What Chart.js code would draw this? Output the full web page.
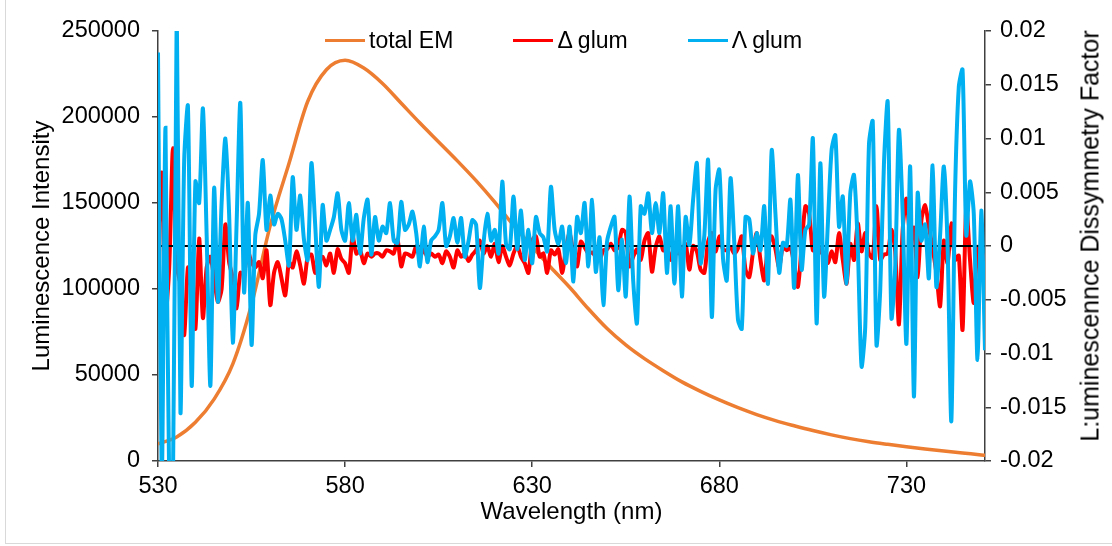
<!DOCTYPE html>
<html><head><meta charset="utf-8">
<script src="https://cdn.jsdelivr.net/npm/chart.js@4.4.1/dist/chart.umd.min.js"></script>
<style>
html,body{margin:0;padding:0;background:#fff;overflow:hidden}
#wrap{position:relative;width:1112px;height:546px;font-family:"Liberation Sans",Arial,sans-serif;overflow:hidden}
#frame{position:absolute;left:5px;top:-10px;width:1200px;height:552px;border:1px solid #d9d9d9}
#c{position:absolute;left:0;top:0}
#legend{position:absolute;left:325px;top:28px;display:flex;align-items:center;font-size:23px;line-height:24px;color:#000;white-space:nowrap}
.item{display:flex;align-items:center;margin-right:60px}
.swatch{width:40px;height:3px;margin-right:4px}
#rtitle{position:absolute;left:1090px;top:236px;transform:translate(-50%,-50%) rotate(-90deg);font-size:25px;color:#000;white-space:nowrap}
</style></head>
<body>
<div id="wrap">
<div id="frame"></div>
<canvas id="c" width="1112" height="546"></canvas>
<div id="legend"></div>
<div id="rtitle"></div>
</div>
<script>
// ---- data ----
const xTickValues = [530, 580, 630, 680, 730];
const xTickLabels = ['530', '580', '630', '680', '730'];
const leftTickValues = [0, 50000, 100000, 150000, 200000, 250000];
const leftTickLabels = ['0', '50000', '100000', '150000', '200000', '250000'];
const rightTickValues = [-0.02, -0.015, -0.01, -0.005, 0, 0.005, 0.01, 0.015, 0.02];
const rightTickLabels = ['-0.02', '-0.015', '-0.01', '-0.005', '0', '0.005', '0.01', '0.015', '0.02'];

const emWavelengths = [530,535,540,545,550,555,560,565,570,575,580,585,590,595,600,605,610,615,620,625,630,635,640,645,650,655,660,665,670,675,680,685,690,695,700,705,710,715,720,725,730,735,740,745,750,751];
const emIntensity = [9900,14000,22500,36000,56500,91000,137000,173000,209000,227500,233000,228500,219500,208000,196500,185500,174500,163000,150500,137000,124500,112500,101000,88500,77000,67500,59500,52500,46000,40500,35500,31000,27000,23500,20500,17700,15200,13000,11200,9700,8300,7000,5800,4700,3500,3300];

const glumWavelengths = [
530,531,532,533,534,535,536,537,538,539,
540,541,542,543,544,545,546,547,548,549,
550,551,552,553,554,555,556,557,558,559,
560,561,562,563,564,565,566,567,568,569,
570,571,572,573,574,575,576,577,578,579,
580,581,582,583,584,585,586,587,588,589,
590,591,592,593,594,595,596,597,598,599,
600,601,602,603,604,605,606,607,608,609,
610,611,612,613,614,615,616,617,618,619,
620,621,622,623,624,625,626,627,628,629,
630,631,632,633,634,635,636,637,638,639,
640,641,642,643,644,645,646,647,648,649,
650,651,652,653,654,655,656,657,658,659,
660,661,662,663,664,665,666,667,668,669,
670,671,672,673,674,675,676,677,678,679,
680,681,682,683,684,685,686,687,688,689,
690,691,692,693,694,695,696,697,698,699,
700,701,702,703,704,705,706,707,708,709,
710,711,712,713,714,715,716,717,718,719,
720,721,722,723,724,725,726,727,728,729,
730,731,732,733,734,735,736,737,738,739,
740,741,742,743,744,745,746,747,748,749,
750,751];

const deltaGlum = [
0,0.0068,-0.0064,-0.002,0.0091,-0.0018,-0.0036,-0.0083,-0.002,-0.0042,
-0.0077,0.0007,-0.0067,-0.002,-0.001,-0.003,-0.0052,-0.004,0.002,-0.0015,
-0.003,-0.0058,-0.0025,-0.0025,-0.0005,-0.0015,-0.002,-0.0015,-0.003,-0.0004,
-0.0055,-0.0025,-0.0015,-0.003,-0.0046,-0.0015,-0.002,-0.0005,-0.0018,-0.0035,
-0.001,-0.0008,-0.0025,-0.0015,-0.001,-0.0018,-0.0007,-0.0025,-0.0003,-0.0012,
-0.0016,-0.0025,0.0009,-0.0007,-0.0004,-0.0016,-0.0007,-0.001,-0.0007,-0.0007,
-0.001,-0.0004,-0.0005,-0.0007,0.0006,-0.0019,-0.0007,-0.0008,-0.001,0,
-0.001,-0.0003,-0.001,-0.0007,-0.001,-0.0008,-0.0016,-0.0005,-0.001,-0.002,
-0.0004,-0.001,-0.0007,-0.0014,-0.0008,-0.0004,0.0005,-0.0007,0,-0.001,
0.0002,-0.0015,0,-0.001,-0.0018,-0.0007,0,-0.001,-0.0016,-0.0025,
0.0005,0.0009,-0.001,-0.0007,-0.0025,-0.0004,-0.0008,-0.0003,-0.0025,-0.0003,
0.0012,-0.0007,-0.0019,0.0004,-0.0001,-0.0007,-0.0006,-0.001,-0.0013,-0.0004,
-0.0003,0.0002,-0.0004,-0.0001,0.0015,0.0012,-0.0019,-0.001,-0.0003,-0.0013,
0.0005,0.0012,-0.0024,-0.0001,0.0009,-0.0004,-0.0001,-0.0013,-0.0001,-0.0007,
-0.0004,0.0002,-0.0022,0,-0.0005,-0.0022,-0.0025,0.0004,0.0012,-0.0005,
0.0009,-0.0003,-0.0004,-0.0001,-0.0007,-0.0002,0.0009,-0.0022,-0.0029,-0.0006,
0.0012,-0.0013,-0.0032,0,0.0009,-0.0003,-0.002,0,-0.0004,-0.0001,
-0.0017,-0.0038,0,0.0037,0.003,-0.0004,0.0002,-0.0004,-0.001,-0.0016,
-0.0005,-0.0015,0.0012,-0.0013,-0.0035,0.0002,-0.0013,0.0021,-0.0005,0.0012,
-0.0007,-0.0011,0.0037,-0.0013,-0.0008,-0.0007,0.0015,-0.0005,-0.0073,0.0015,
0.0044,0.001,0.0017,-0.0029,0.0024,0.0038,0.0018,-0.0002,-0.0025,-0.0056,
0.0005,-0.0016,0.0021,-0.0013,-0.0009,-0.0078,0.0037,-0.0013,-0.0053,-0.0001,
-0.0019,-0.0007];

const lambdaGlum = [
0.018,-0.022,0.011,-0.022,-0.022,0.022,-0.0155,0.008,0.013,-0.013,
0.006,0.004,0.0128,0.001,-0.013,0.0054,-0.0052,0.004,0.010,0.003,
-0.009,0.002,0.0133,-0.0043,0.004,-0.0092,0.001,0.003,0.008,0.0015,
0.0047,0.002,0.003,0.0025,0.0005,-0.0018,0.0064,0.0015,0.0047,0.0006,
-0.0013,0.0077,0.002,-0.0038,0.0038,0.0005,0.0015,0.0027,0.0049,0.0015,
0.0005,0.004,0.0005,0.0029,-0.0007,0.0026,0.0043,-0.0008,0.0027,0.0005,
0.0018,0.0012,0.004,0.0005,0.0003,0.0041,0.0015,0.002,0.0032,0.0012,
-0.0019,0.0018,-0.0015,0.0005,0.0009,0.0015,0.004,0,0.0009,0.0026,
0.0003,0.0026,-0.001,0.0005,0.0024,0.002,-0.0039,0.0003,0.003,0.0005,
0.0015,-0.0007,0.006,0.0002,-0.0003,0.0046,-0.0003,0.0033,-0.0013,0.0015,
-0.0016,0.0027,0.0012,0.0008,-0.0005,0.0055,0.0015,0.0002,0.0018,-0.0016,
0.0018,-0.0033,0.0027,0.0012,0.004,-0.0019,0.0043,-0.0024,0.0008,-0.0055,
0.0004,0.0018,0.0027,-0.0041,0.0006,-0.0047,0.0046,-0.0033,-0.0072,0.0037,
0.003,0.0049,0.0012,0.004,0.0012,0.0049,-0.0025,0.0037,-0.0035,0.0037,
-0.0047,0.0027,0.0001,0.0043,0.0077,-0.0016,0.001,0.008,-0.0066,0.0052,
0.0071,-0.0012,-0.0032,0.0063,0.0003,-0.0069,-0.0077,0.0027,0.0025,-0.0007,
0.0012,-0.0004,0.0037,-0.0035,0.0089,0.003,-0.0025,0.0003,0,0.0043,
-0.0039,0.0066,-0.0022,0.0015,0.002,0.01,-0.0072,0.0077,-0.0047,0.002,
0.0089,0.0103,0.0018,0.0046,-0.0035,0.0049,0.0066,0,-0.0112,-0.0075,
0.0095,0.0116,-0.0092,-0.0041,0.0077,0.0134,-0.0067,-0.002,0.0108,0.003,
-0.0091,0.0074,-0.014,0.0049,0.0005,0.002,-0.003,0.0075,-0.0038,0.001,
0.0074,0,-0.0163,0.005,0.0148,0.0164,0.001,0.006,0.003,-0.0106,
0.0033,-0.0097];

const zeroLineX = [530, 751];
const zeroLineY = [0, 0];

const seriesLabels = ['total EM', 'Δ glum', 'Λ glum'];
const seriesColors = ['#ED7D31', '#FF0000', '#00B0F0'];
const xTitle = 'Wavelength (nm)';
const leftTitle = 'Luminescence Intensity';
const rightTitle = 'L:uminescennce Dissymmetry Factor';

// ---- chart ----
const FAMILY = '"Liberation Sans", Arial, sans-serif';
const TICKFONT = {family: FAMILY, size: 23.5};
const TITLEFONT = {family: FAMILY, size: 24};
const AXIS = '#404040';
const pts = (xs, ys) => xs.map((x, i) => ({x: x, y: ys[i]}));

const chart = new Chart(document.getElementById('c'), {
  type: 'line',
  data: {
    datasets: [
      {label: seriesLabels[0], data: pts(emWavelengths, emIntensity), yAxisID: 'y', borderColor: seriesColors[0], backgroundColor: seriesColors[0], borderWidth: 3.5, pointRadius: 0, cubicInterpolationMode: 'monotone', order: 4},
      {label: seriesLabels[1], data: pts(glumWavelengths, deltaGlum), yAxisID: 'y2', borderColor: seriesColors[1], backgroundColor: seriesColors[1], borderWidth: 4, pointRadius: 0, tension: 0.25, order: 3},
      {label: '', data: pts(zeroLineX, zeroLineY), yAxisID: 'y2', borderColor: '#000', borderWidth: 2, pointRadius: 0, order: 2},
      {label: seriesLabels[2], data: pts(glumWavelengths, lambdaGlum), yAxisID: 'y2', borderColor: seriesColors[2], backgroundColor: seriesColors[2], borderWidth: 4, pointRadius: 0, tension: 0.25, order: 1}
    ]
  },
  options: {
    responsive: false, animation: false, devicePixelRatio: 1,
    layout: {padding: {top: 31, left: 0, right: 0, bottom: 0}},
    plugins: {legend: {display: false}, tooltip: {enabled: false}},
    scales: {
      x: {
        type: 'linear', position: 'bottom', min: 530, max: 751,
        afterBuildTicks: s => { s.ticks = xTickValues.map(v => ({value: v})); },
        afterFit: s => { s.height = 85; },
        ticks: {callback: (v, i) => xTickLabels[i], font: TICKFONT, color: '#000', padding: 5, maxRotation: 0, autoSkip: false},
        grid: {drawOnChartArea: false, drawTicks: true, tickLength: 6, color: AXIS, lineWidth: 1.5},
        border: {display: true, color: AXIS, width: 1.5},
        title: {display: true, text: xTitle, font: TITLEFONT, color: '#000', padding: {top: 0, bottom: 19}}
      },
      y: {
        type: 'linear', position: 'left', min: 0, max: 250000,
        afterBuildTicks: s => { s.ticks = leftTickValues.map(v => ({value: v})); },
        afterFit: s => { s.width = 158; },
        ticks: {callback: (v, i) => leftTickLabels[i], font: TICKFONT, color: '#000', padding: 12, autoSkip: false},
        grid: {drawOnChartArea: false, drawTicks: true, tickLength: 6, color: AXIS, lineWidth: 1.5},
        border: {display: true, color: AXIS, width: 1.5},
        title: {display: true, text: leftTitle, font: TITLEFONT, color: '#000', padding: {top: 28, bottom: 0}}
      },
      y2: {
        type: 'linear', position: 'right', min: -0.02, max: 0.02,
        afterBuildTicks: s => { s.ticks = rightTickValues.map(v => ({value: v})); },
        afterFit: s => { s.width = 127; },
        ticks: {callback: (v, i) => rightTickLabels[i], font: TICKFONT, color: '#000', padding: 9, autoSkip: false},
        grid: {drawOnChartArea: false, drawTicks: true, tickLength: 6, color: AXIS, lineWidth: 1.5},
        border: {display: true, color: AXIS, width: 1.5},
        title: {display: false}
      }
    }
  }
});

// HTML legend built from the chart's datasets
const legendEl = document.getElementById('legend');
chart.data.datasets.filter(d => d.label).sort((a, b) => seriesLabels.indexOf(a.label) - seriesLabels.indexOf(b.label)).forEach(d => {
  const item = document.createElement('div'); item.className = 'item';
  const sw = document.createElement('div'); sw.className = 'swatch'; sw.style.background = d.borderColor;
  const tx = document.createElement('span'); tx.textContent = d.label;
  item.appendChild(sw); item.appendChild(tx); legendEl.appendChild(item);
});
document.getElementById('rtitle').textContent = rightTitle;
</script>
</body></html>
